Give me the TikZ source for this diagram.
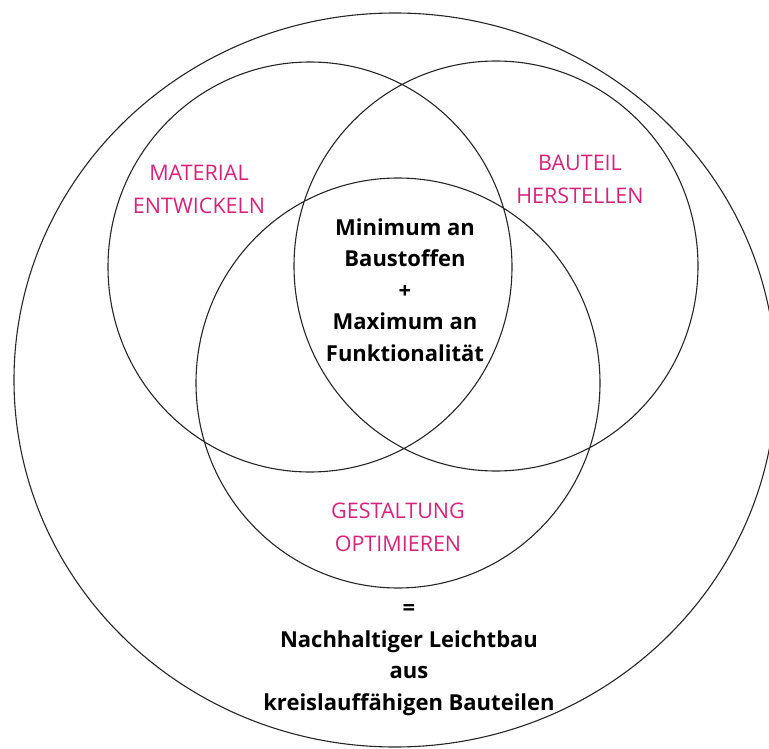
\documentclass[tikz,border=0pt]{standalone}
\usepackage{fontspec}
\setmainfont{Open Sans}
\definecolor{rosa}{RGB}{214,36,122}
\begin{document}
\begin{tikzpicture}[x=1pt,y=-1pt,line width=1.1pt,draw=black!85,
  bereich/.style={text=rosa,align=center,font=\fontsize{21.5}{33}\selectfont},
  ergebnis/.style={align=center,font=\bfseries\fontsize{22}{31.5}\selectfont}]
\useasboundingbox (0,0) rectangle (769,749);
\coordinate (G) at (395,380);
\coordinate (L) at (310,267);
\coordinate (R) at (496,266);
\coordinate (U) at (398,383);
\draw (G) ellipse [x radius=381,y radius=367];
\draw (L) ellipse [x radius=202,y radius=205] (R) ellipse [x radius=202,y radius=205] (U) ellipse [x radius=202,y radius=205];
\node[bereich] (mat) at (199,189) {MATERIAL\\ENTWICKELN};
\node[bereich] (bau) at (580,179) {BAUTEIL\\HERSTELLEN};
\node[bereich] (ges) at (398,527) {GESTALTUNG\\OPTIMIEREN};
\node[ergebnis] (mitte) at (405,290) {Minimum an\\Baustoffen\\+\\Maximum an\\Funktionalität};
\node[ergebnis] (summe) at (409,660) {=\\Nachhaltiger Leichtbau\\aus\\kreislauffähigen Bauteilen};
\end{tikzpicture}
\end{document}
